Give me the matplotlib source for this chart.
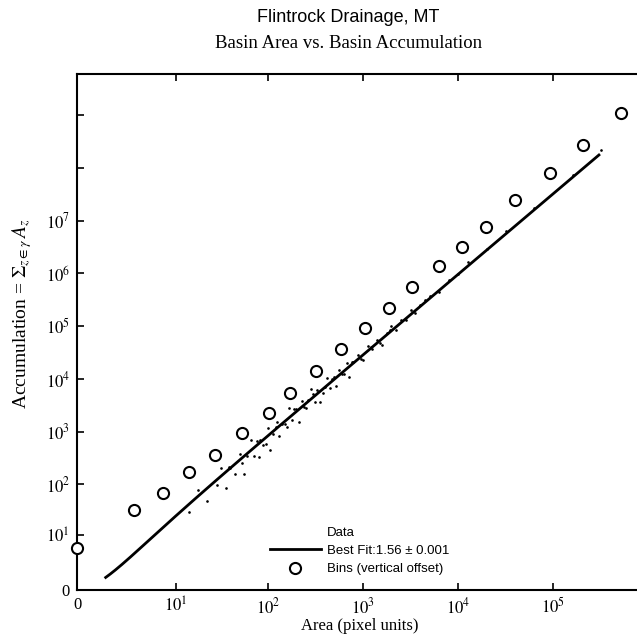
#Flintrock Drainage, MT
#basin area vs basin accumulation on log(1+x) axes

import numpy as np
import matplotlib
matplotlib.use("Agg")
import matplotlib.pyplot as plt

plt.rcParams['font.family'] = ['Liberation Serif', 'DejaVu Serif']
plt.rcParams['mathtext.fontset'] = 'stix'

# bins (vertical offset)
bin_area = [0, 3, 7, 14, 27, 53, 102, 171, 321, 589, 1052, 1879, 3275, 6295,
            10970, 19590, 39450, 91900, 204000, 510600]
bin_accum = [5.3, 32, 68, 172, 361, 947, 2266, 5430, 14190, 37060, 92670,
             221800, 554600, 1.39e6, 3.18e6, 7.62e6, 2.47e7, 8.04e7, 2.73e8, 1.10e9]

# raw basins (log10 values), estimated from the dot cloud
data_log_area = [1.15, 1.25, 1.35, 1.45, 1.50, 1.55, 1.60, 1.65, 1.70, 1.75,
                 1.78, 1.82, 1.85, 1.90, 1.92, 1.95, 2.00, 2.02, 2.05, 2.10,
                 2.12, 2.15, 2.20, 2.22, 2.25, 2.30, 2.33, 2.36, 2.40, 2.42,
                 2.45, 2.50, 2.52, 2.55, 2.60, 2.62, 2.65, 2.70, 2.72, 2.75,
                 2.80, 2.83, 2.85, 2.90, 2.95, 3.00, 3.05, 3.10, 3.15, 3.20,
                 3.25, 3.30, 3.35, 3.40, 3.50, 3.55, 3.60, 3.70, 3.80, 3.90,
                 4.00, 4.10, 4.30, 4.50, 4.80, 5.20, 5.50,
                 2.08, 2.18, 2.28, 2.38, 2.48, 2.58, 2.68, 2.78, 2.88, 2.98,
                 3.08, 3.18, 3.28, 3.45, 3.65, 1.88, 1.98, 1.72, 1.58]
data_log_accum = [1.47, 1.88, 1.68, 1.98, 2.31, 1.93, 2.31, 2.19, 2.58, 2.19,
                  2.54, 2.85, 2.54, 2.52, 2.85, 2.75, 3.07, 2.65, 2.95, 3.18,
                  2.91, 3.15, 3.08, 3.44, 3.23, 3.43, 3.18, 3.59, 3.44, 3.60,
                  3.81, 3.57, 3.79, 3.56, 3.84, 4.02, 3.82, 4.04, 3.87, 4.17,
                  4.10, 4.31, 4.04, 4.32, 4.46, 4.35, 4.63, 4.56, 4.74, 4.64,
                  4.87, 5.01, 4.93, 5.11, 5.30, 5.24, 5.40, 5.58, 5.64, 5.88,
                  5.98, 6.21, 6.47, 6.80, 7.23, 7.86, 8.33,
                  3.09, 3.14, 3.43, 3.46, 3.71, 3.74, 3.99, 4.09, 4.33, 4.38,
                  4.61, 4.68, 4.92, 5.11, 5.50, 2.82, 2.77, 2.40, 2.33]

# best fit power law as drawn
fit_coef = 0.73
fit_exp = 1.53
fit_label = "Best Fit:1.56 \u00b1 0.001"

x_ticks = [0, 10, 100, 1e3, 1e4, 1e5]
x_ticklabels = ['0', '$10^1$', '$10^2$', '$10^3$', '$10^4$', '$10^5$']
y_ticks = [0, 10, 100, 1e3, 1e4, 1e5, 1e6, 1e7, 1e8, 1e9]
y_ticklabels = ['0', '$10^1$', '$10^2$', '$10^3$', '$10^4$', '$10^5$',
                '$10^6$', '$10^7$', '', '']


def fwd(v):
    return np.log10(1 + np.clip(v, 0, None))


def inv(v):
    return 10 ** np.asarray(v) - 1


fig = plt.figure(figsize=(6.37, 6.44), dpi=100)
ax = fig.add_axes([77/637, 1 - 590/644, (643 - 77)/637, (590 - 74)/644])
ax.set_xscale('function', functions=(fwd, inv))
ax.set_yscale('function', functions=(fwd, inv))

data_area = 10 ** np.array(data_log_area)
data_accum = 10 ** np.array(data_log_accum)
ax.plot(data_area, data_accum, linestyle='none', marker='.', markersize=1.8,
        color='black', label='Data')

fit_area = np.geomspace(1.0, 3.0e5, 300)
ax.plot(fit_area, fit_coef * fit_area ** fit_exp, color='black', linewidth=2,
        label=fit_label)

ax.plot(bin_area, bin_accum, linestyle='none', marker='o', markersize=8,
        markerfacecolor='white', markeredgecolor='black', markeredgewidth=1.5,
        label='Bins (vertical offset)', clip_on=False, zorder=5)

ax.set_xlim(0, 8.7e5)
ax.set_ylim(0, 6.0e9)
ax.set_xticks(x_ticks)
ax.set_xticklabels(x_ticklabels)
ax.set_yticks(y_ticks)
ax.set_yticklabels(y_ticklabels)
ax.xaxis.set_minor_locator(plt.NullLocator())
ax.yaxis.set_minor_locator(plt.NullLocator())
ax.tick_params(direction='in', length=5, width=1.2, labelsize=12, top=True,
               pad=5)
for s in ax.spines.values():
    s.set_linewidth(1.5)

ax.set_xlabel('Area (pixel units)', fontsize=12, labelpad=1)
ax.set_ylabel(r'Accumulation = $\Sigma_{z\in\gamma}\,A_z$', fontsize=14)
ax.yaxis.set_label_coords(-0.076, 0.535)

fig.text(348/637, 1 - 17/644, 'Flintrock Drainage, MT', ha='center',
         va='center', fontsize=13, family='Liberation Sans')
fig.text(349/637, 1 - 44/644, 'Basin Area vs. Basin Accumulation',
         ha='center', va='center', fontsize=13.5)

leg = ax.legend(loc='upper left', bbox_to_anchor=(263/637, 1 - 520/644),
                bbox_transform=fig.transFigure, frameon=False, borderpad=0,
                handlelength=3.9, handletextpad=0.45, labelspacing=0.45,
                prop={'family': 'Liberation Sans', 'size': 9.5})
# the data handle is too small to show in the reference
leg.legend_handles[0].set_markersize(0)

plt.savefig('out.png', dpi=100)
